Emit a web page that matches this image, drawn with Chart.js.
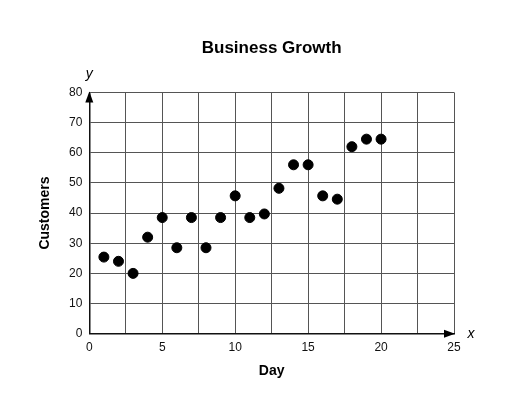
<!DOCTYPE html>
<html>
<head>
<meta charset="utf-8">
<script src="https://cdn.jsdelivr.net/npm/chart.js"></script>
<style>
  html, body { margin: 0; padding: 0; background: #fff; }
  #wrap { width: 524px; height: 399px; }
</style>
</head>
<body>
<div id="wrap"><canvas id="myChart" width="524" height="399"></canvas></div>
<script>
// days and customer counts
const days = [1, 2, 3, 4, 5, 6, 7, 8, 9, 10, 11, 12, 13, 14, 15, 16, 17, 18, 19, 20];
const customers = [25.4, 24, 20, 32, 38.5, 28.5, 38.5, 28.5, 38.5, 45.7, 38.5, 39.7, 48.2, 56, 56, 45.7, 44.6, 62, 64.5, 64.5];
const xTicks = [0, 5, 10, 15, 20, 25];
const yTicks = [0, 10, 20, 30, 40, 50, 60, 70, 80];

const FONT = "'Liberation Sans', Arial, sans-serif";

// arrows on the axes + the little x / y letters
const axisArrows = {
  id: 'axisArrows',
  afterDraw(chart) {
    const c = chart.ctx, a = chart.chartArea;
    c.save();
    c.fillStyle = '#000';
    c.beginPath();
    c.moveTo(a.left, a.top - 1);
    c.lineTo(a.left - 4, a.top + 10);
    c.lineTo(a.left + 4, a.top + 10);
    c.closePath();
    c.fill();
    c.beginPath();
    c.moveTo(a.right + 1, a.bottom);
    c.lineTo(a.right - 10, a.bottom - 4);
    c.lineTo(a.right - 10, a.bottom + 4);
    c.closePath();
    c.fill();
    c.font = 'italic 14px ' + FONT;
    c.textAlign = 'center';
    c.textBaseline = 'middle';
    c.fillText('y', a.left, a.top - 18);
    c.fillText('x', a.right + 17, a.bottom);
    c.restore();
  }
};

const ctx = document.getElementById('myChart').getContext('2d');
const chart = new Chart(ctx, {
  type: 'scatter',
  data: {
    datasets: [{
      label: 'Customers',
      data: days.map((d, i) => ({ x: d, y: customers[i] })),
      backgroundColor: '#000',
      borderColor: '#000',
      pointRadius: 5,
      pointHoverRadius: 5
    }]
  },
  options: {
    responsive: false,
    animation: false,
    layout: { padding: { left: 0, right: 70, top: 0, bottom: 15 } },
    plugins: {
      legend: { display: false },
      tooltip: { enabled: false },
      title: {
        display: true,
        fullSize: false,
        text: 'Business Growth',
        color: '#000',
        font: { family: FONT, size: 17, weight: 'bold' },
        padding: { top: 38, bottom: 34 }
      }
    },
    scales: {
      x: {
        type: 'linear',
        min: 0,
        max: 25,
        afterBuildTicks(axis) {
          const t = [];
          for (let v = 0; v <= 25; v += 2.5) t.push({ value: v });
          axis.ticks = t;
        },
        afterFit(axis) { axis.height = 50.3; },
        ticks: {
          color: '#111',
          font: { family: FONT, size: 12 },
          padding: 7,
          maxRotation: 0,
          autoSkip: false,
          callback: v => xTicks.includes(v) ? String(v) : ''
        },
        grid: { color: '#555', lineWidth: 1, drawTicks: false },
        border: { color: '#111', width: 1.5 },
        title: {
          display: true,
          text: 'Day',
          color: '#000',
          font: { family: FONT, size: 14, weight: 'bold' },
          padding: { top: 4 }
        }
      },
      y: {
        min: 0,
        max: 80,
        afterBuildTicks(axis) { axis.ticks = yTicks.map(v => ({ value: v })); },
        afterFit(axis) { axis.width = 89.3; },
        ticks: {
          color: '#111',
          font: { family: FONT, size: 12 },
          padding: 7
        },
        grid: { color: '#555', lineWidth: 1, drawTicks: false },
        border: { color: '#111', width: 1.5 },
        title: {
          display: true,
          text: 'Customers',
          color: '#000',
          font: { family: FONT, size: 14, weight: 'bold' },
          padding: { top: 37 }
        }
      }
    }
  },
  plugins: [axisArrows]
});
</script>
</body>
</html>
